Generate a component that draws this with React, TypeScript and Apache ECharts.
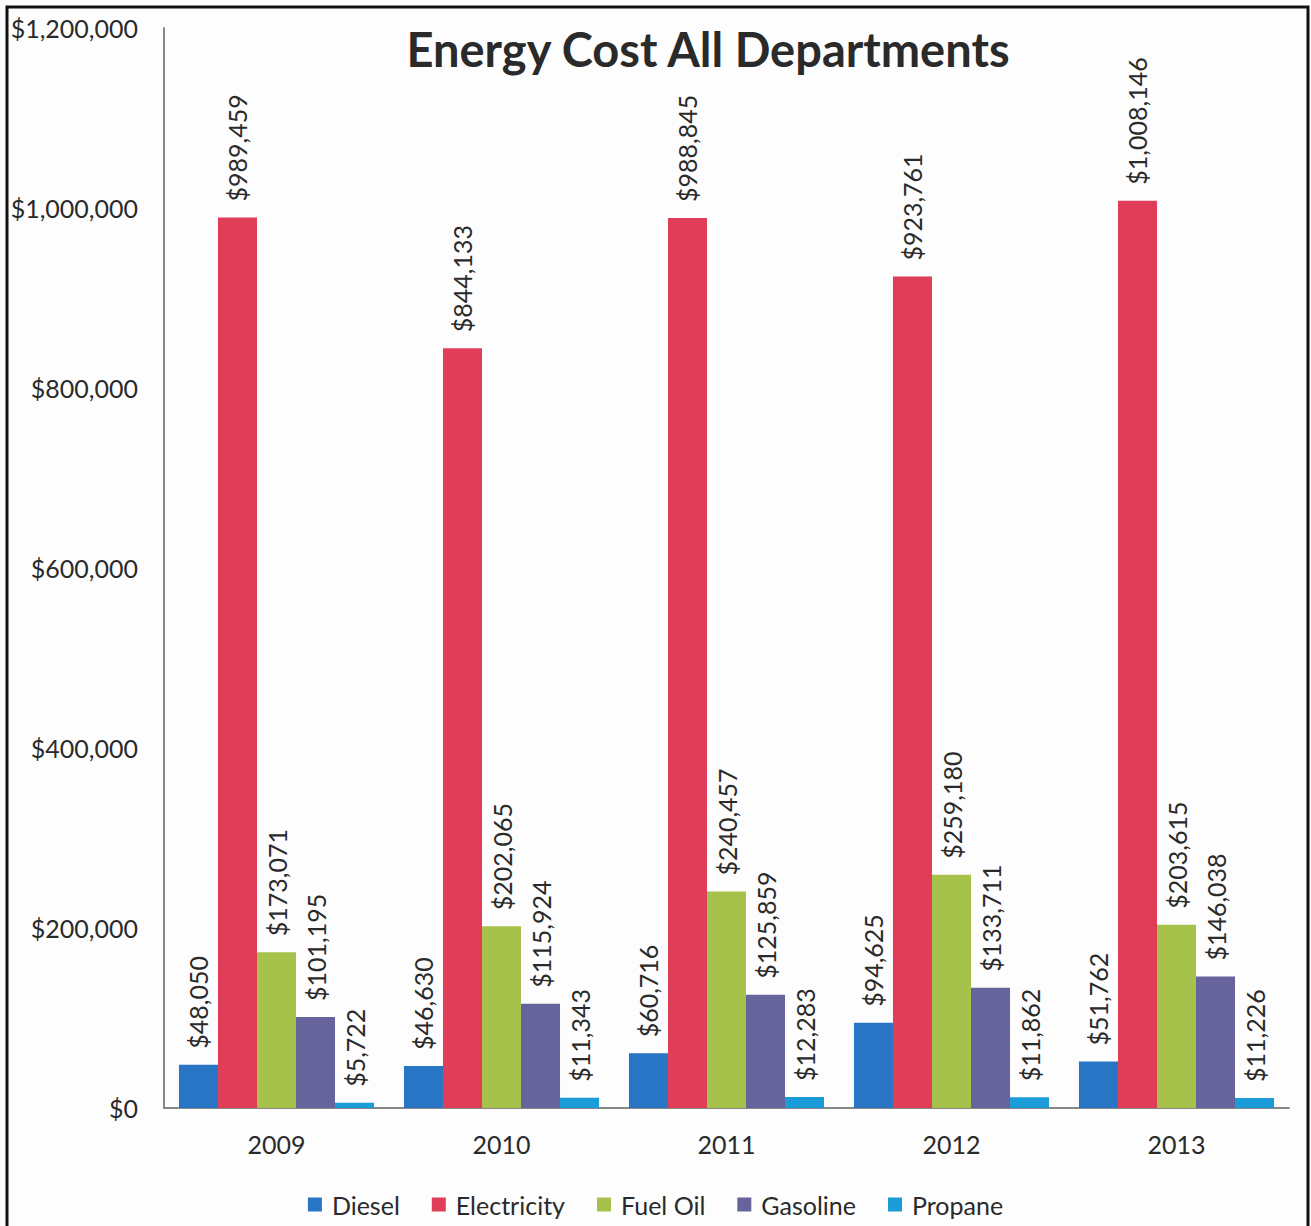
import React, { useEffect, useRef } from "react";
import * as echarts from "echarts";

const years = ["2009", "2010", "2011", "2012", "2013"];
const seriesNames = ["Diesel", "Electricity", "Fuel Oil", "Gasoline", "Propane"];
const diesel = [48050, 46630, 60716, 94625, 51762];
const electricity = [989459, 844133, 988845, 923761, 1008146];
const fuelOil = [173071, 202065, 240457, 259180, 203615];
const gasoline = [101195, 115924, 125859, 133711, 146038];
const propane = [5722, 11343, 12283, 11862, 11226];
const colors = ["#2874C5", "#E03D58", "#A6C24B", "#66649A", "#1B9BD7"];

const fmt = (v: number) => "$" + v.toLocaleString("en-US");
const FONT = "Lato, 'Open Sans', sans-serif";

export default function App() {
  const ref = useRef<HTMLDivElement>(null);
  useEffect(() => {
    document.body.style.margin = "0";
    const chart = echarts.init(ref.current!, null, { renderer: "svg" });
    const values = [diesel, electricity, fuelOil, gasoline, propane];
    chart.setOption({
      animation: false,
      backgroundColor: "#fdfdfd",
      textStyle: { fontFamily: FONT },
      title: {
        text: "Energy Cost All Departments",
        left: 703,
        textAlign: "center",
        top: 20,
        textStyle: { fontSize: 47, fontWeight: "bold", color: "#2a2a2a", fontFamily: FONT },
      },
      legend: {
        data: seriesNames,
        left: "center",
        top: 1187,
        itemWidth: 14,
        itemHeight: 14,
        itemGap: 32,
        icon: "rect",
        textStyle: { fontSize: 25, color: "#2a2a2a", fontFamily: FONT, padding: [0, 0, 0, 5] },
      },
      grid: { left: 164, right: 22, top: 28, bottom: 118 },
      xAxis: {
        type: "category",
        data: years,
        axisLine: { lineStyle: { color: "#888", width: 2 } },
        axisTick: { show: false },
        axisLabel: { fontSize: 25, color: "#2a2a2a", margin: 23, fontFamily: FONT },
      },
      yAxis: {
        type: "value",
        min: 0,
        max: 1200000,
        interval: 200000,
        axisLine: { show: true, lineStyle: { color: "#888", width: 2 } },
        axisTick: { show: false },
        splitLine: { show: false },
        axisLabel: {
          fontSize: 25,
          color: "#2a2a2a",
          margin: 26,
          fontFamily: FONT,
          formatter: (v: number) => fmt(v),
        },
      },
      graphic: [
        {
          type: "rect",
          shape: { x: 7, y: 7, width: 1301, height: 1240 },
          style: { fill: "none", stroke: "#111", lineWidth: 3 },
          silent: true,
        },
      ],
      series: seriesNames.map((name, i) => ({
        name,
        type: "bar",
        data: values[i],
        barGap: "0%",
        barCategoryGap: "13.3%",
        itemStyle: { color: colors[i] },
        label: {
          show: true,
          position: "top",
          rotate: 90,
          align: "left",
          verticalAlign: "middle",
          distance: 16,
          fontSize: 25,
          color: "#2a2a2a",
          fontFamily: FONT,
          formatter: (p: any) => fmt(p.value),
        },
      })),
    });
    return () => chart.dispose();
  }, []);
  return <div ref={ref} style={{ width: 1311, height: 1226 }} />;
}
